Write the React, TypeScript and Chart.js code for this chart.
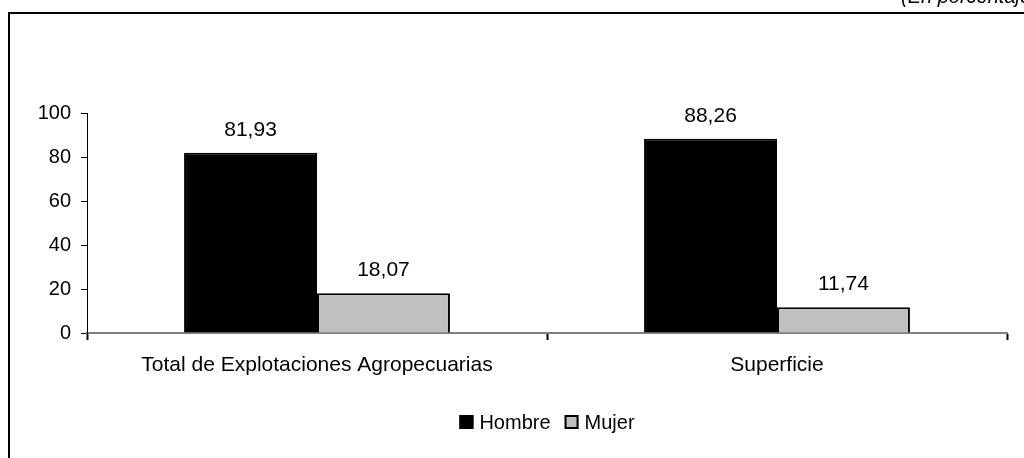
import React, { useEffect, useRef } from "react";
import { Chart, registerables } from "chart.js";

Chart.register(...registerables);

// Distribución por sexo del productor
const categories = ["Total de Explotaciones Agropecuarias", "Superficie"];
const seriesNames = ["Hombre", "Mujer"];
const hombreValues = [81.93, 88.26];
const mujerValues = [18.07, 11.74];
const yTicks = [0, 20, 40, 60, 80, 100];
const unitNote = "(En porcentajes)";

const FONT = "'Liberation Sans', Arial, sans-serif";
const FILLS = ["#000000", "#C0C0C0"];

const fmt = (v: number) => v.toFixed(2).replace(".", ",");

// Frame around the chart and the unit note above it
const framePlugin = {
  id: "frame",
  beforeDraw(chart: any) {
    const ctx = chart.ctx;
    ctx.save();
    ctx.fillStyle = "#ffffff";
    ctx.fillRect(0, 0, chart.width, chart.height);
    ctx.strokeStyle = "#000000";
    ctx.lineWidth = 2;
    ctx.strokeRect(9, 13, chart.width + 40, chart.height + 40);
    ctx.fillStyle = "#000000";
    ctx.font = `italic 20px ${FONT}`;
    ctx.textAlign = "left";
    ctx.textBaseline = "alphabetic";
    ctx.fillText(unitNote, 901, 3);
    ctx.restore();
  },
};

// Value labels above each bar
const valueLabelPlugin = {
  id: "valueLabels",
  afterDatasetsDraw(chart: any) {
    const ctx = chart.ctx;
    ctx.save();
    ctx.fillStyle = "#000000";
    ctx.font = `21px ${FONT}`;
    ctx.textAlign = "center";
    ctx.textBaseline = "middle";
    chart.data.datasets.forEach((ds: any, i: number) => {
      const meta = chart.getDatasetMeta(i);
      meta.data.forEach((bar: any, j: number) => {
        ctx.fillText(fmt(ds.data[j]), bar.x, bar.y - 23);
      });
    });
    ctx.restore();
  },
};

// Legend centred under the plot
const legendPlugin = {
  id: "customLegend",
  afterDraw(chart: any) {
    const ctx = chart.ctx;
    ctx.save();
    ctx.font = `20px ${FONT}`;
    ctx.textBaseline = "middle";
    ctx.textAlign = "left";
    const box = 14;
    const gapBoxText = 6;
    const gapItems = 14;
    const widths = seriesNames.map((n) => box + gapBoxText + ctx.measureText(n).width);
    const total = widths.reduce((a, b) => a + b, 0) + gapItems * (seriesNames.length - 1);
    let x = 547 - total / 2;
    const cy = 422;
    seriesNames.forEach((n, i) => {
      ctx.fillStyle = FILLS[i];
      ctx.fillRect(x, cy - box / 2, box, box);
      ctx.strokeStyle = "#000000";
      ctx.lineWidth = 2;
      ctx.strokeRect(x + 1, cy - box / 2 + 1, box - 2, box - 2);
      ctx.fillStyle = "#000000";
      ctx.fillText(n, x + box + gapBoxText, cy + 1);
      x += widths[i] + gapItems;
    });
    ctx.restore();
  },
};

export default function App() {
  const canvasRef = useRef<HTMLCanvasElement | null>(null);

  useEffect(() => {
    if (!canvasRef.current) return;
    const chart = new Chart(canvasRef.current, {
      type: "bar",
      data: {
        labels: categories,
        datasets: [
          {
            label: seriesNames[0],
            data: hombreValues,
            backgroundColor: FILLS[0],
            borderColor: "#000000",
            borderWidth: 2,
            categoryPercentage: 0.578,
            barPercentage: 1,
          },
          {
            label: seriesNames[1],
            data: mujerValues,
            backgroundColor: FILLS[1],
            borderColor: "#000000",
            borderWidth: 2,
            categoryPercentage: 0.578,
            barPercentage: 1,
          },
        ],
      },
      plugins: [framePlugin, valueLabelPlugin, legendPlugin],
      options: {
        animation: false,
        responsive: false,
        maintainAspectRatio: false,
        devicePixelRatio: 1,
        layout: { padding: { top: 113, right: 17, left: 0, bottom: 0 } },
        plugins: {
          legend: { display: false },
          tooltip: { enabled: false },
        },
        scales: {
          x: {
            grid: {
              drawOnChartArea: false,
              color: "#000000",
              tickLength: 7,
              tickWidth: 2,
              offset: true,
            },
            border: { color: "#808080", width: 2 },
            ticks: {
              color: "#000000",
              font: { family: FONT, size: 21 },
              padding: 13,
              maxRotation: 0,
              autoSkip: false,
            },
            afterFit(scale: any) {
              scale.height = 125;
            },
          },
          y: {
            min: 0,
            max: 100,
            afterBuildTicks(scale: any) {
              scale.ticks = yTicks.map((v) => ({ value: v }));
            },
            grid: {
              drawOnChartArea: false,
              color: "#000000",
              tickLength: 6,
            },
            border: { color: "#000000", width: 1 },
            ticks: {
              color: "#000000",
              font: { family: FONT, size: 20 },
              padding: 10,
            },
            afterFit(scale: any) {
              scale.width = 87;
            },
          },
        },
      },
    });
    return () => chart.destroy();
  }, []);

  return (
    <div style={{ position: "fixed", left: 0, top: 0, width: 1024, height: 458, background: "#fff" }}>
      <canvas ref={canvasRef} width={1024} height={458} style={{ display: "block" }} />
    </div>
  );
}
